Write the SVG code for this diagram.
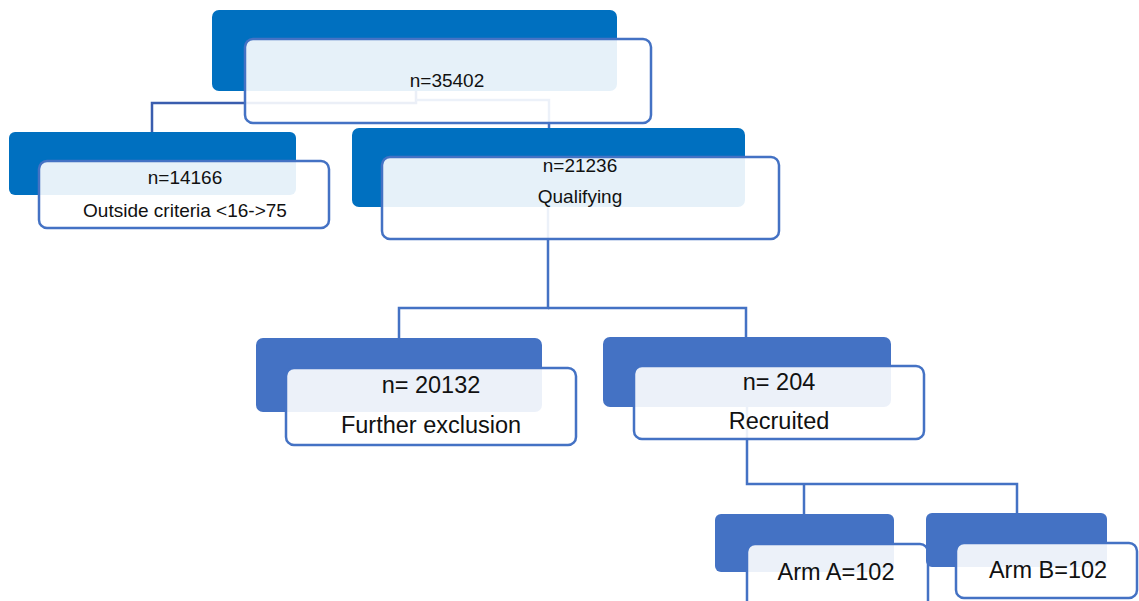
<svg xmlns="http://www.w3.org/2000/svg" width="1139" height="601" viewBox="0 0 1139 601">
<style>
.bg{fill:#ffffff}
.d1{fill:#0070C0}
.d2{fill:#4472C4}
.lt{fill:#ffffff;fill-opacity:0.9;stroke:#4472C4;stroke-width:2.5}
.c1{fill:none;stroke:#3A5DAE;stroke-width:2.5}
.c2{fill:none;stroke:#4472C4;stroke-width:2.5}
.s{font-family:"Liberation Sans",Arial,sans-serif;font-size:19px;fill:#111;text-anchor:middle}
.b{font-family:"Liberation Sans",Arial,sans-serif;font-size:23.5px;fill:#111;text-anchor:middle}
</style>
<rect class="bg" x="0" y="0" width="1139" height="601"/>
<g id="connectors">
<polyline class="c1" points="416,90 416,103 152,103 152,132"/>
<polyline class="c2" points="416,100 549,100 549,129"/>
<polyline class="c2" points="548,207 548,308 399,308 399,338"/>
<polyline class="c2" points="548,308 746,308 746,337"/>
<polyline class="c2" points="747,407 747,484 1017,484 1017,513"/>
<polyline class="c2" points="804,484 804,514"/>
</g>
<g id="node-total">
<rect class="d1" x="212" y="10" width="405" height="81" rx="7"/>
<rect class="lt" x="245" y="39" width="406" height="84" rx="8"/>
<text class="s" x="447" y="87">n=35402</text>
</g>
<g id="node-outside">
<rect class="d1" x="9" y="132" width="287" height="63" rx="6"/>
<rect class="lt" x="39" y="161" width="290" height="67" rx="8"/>
<text class="s" x="185" y="184">n=14166</text>
<text class="s" x="185" y="217">Outside criteria &lt;16-&gt;75</text>
</g>
<g id="node-qualifying">
<rect class="d1" x="352" y="128" width="393" height="79" rx="7"/>
<rect class="lt" x="382" y="157" width="397" height="82" rx="8"/>
<text class="s" x="580" y="172">n=21236</text>
<text class="s" x="580" y="203">Qualifying</text>
</g>
<g id="node-further">
<rect class="d2" x="256" y="338" width="286" height="74" rx="7"/>
<rect class="lt" x="286" y="368" width="290" height="77" rx="8"/>
<text class="b" x="431" y="393">n= 20132</text>
<text class="b" x="431" y="433">Further exclusion</text>
</g>
<g id="node-recruited">
<rect class="d2" x="603" y="337" width="288" height="70" rx="7"/>
<rect class="lt" x="634" y="366" width="290" height="73" rx="8"/>
<text class="b" x="779" y="390">n= 204</text>
<text class="b" x="779" y="429">Recruited</text>
</g>
<g id="node-arm-a">
<rect class="d2" x="715" y="514" width="179" height="58" rx="6"/>
<rect class="lt" x="747" y="544" width="181" height="70" rx="8"/>
<text class="b" x="836" y="580">Arm A=102</text>
</g>
<g id="node-arm-b">
<rect class="d2" x="926" y="513" width="181" height="54" rx="6"/>
<rect class="lt" x="956" y="543" width="181" height="55" rx="8"/>
<text class="b" x="1048" y="578">Arm B=102</text>
</g>
</svg>
